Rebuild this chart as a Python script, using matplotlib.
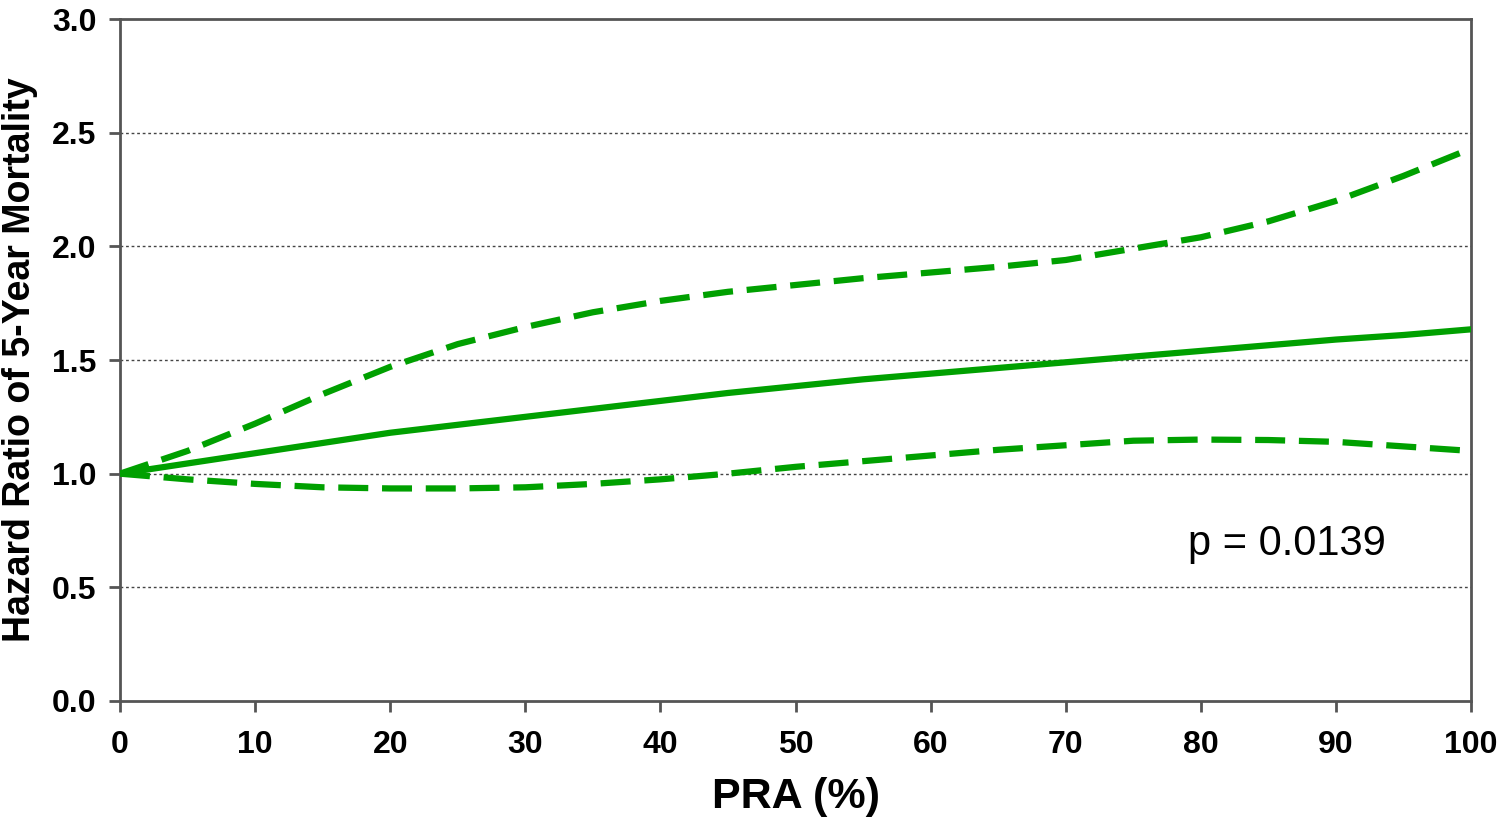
import numpy as np
import matplotlib.pyplot as plt

plt.rcParams['font.family'] = ['Liberation Sans', 'DejaVu Sans']

# PRA (%) and hazard ratio curves
pra = [0, 5, 10, 15, 20, 25, 30, 35, 40, 45, 50,
       55, 60, 65, 70, 75, 80, 85, 90, 95, 100]
hr = [1.0, 1.045, 1.09, 1.135, 1.18, 1.215, 1.25, 1.285, 1.32, 1.355, 1.385,
      1.415, 1.44, 1.465, 1.49, 1.515, 1.54, 1.565, 1.59, 1.61, 1.635]
hr_upper = [1.0, 1.1, 1.22, 1.35, 1.47, 1.57, 1.645, 1.71, 1.76, 1.80, 1.83,
            1.86, 1.885, 1.91, 1.94, 1.99, 2.04, 2.11, 2.2, 2.31, 2.43]
hr_lower = [1.0, 0.975, 0.955, 0.94, 0.935, 0.935, 0.94, 0.955, 0.975, 1.0, 1.03,
            1.055, 1.08, 1.105, 1.125, 1.145, 1.15, 1.148, 1.14, 1.12, 1.1]

xticks = np.arange(0, 101, 10)
yticks = np.arange(0, 3.01, 0.5)

green = '#00a000'

fig = plt.figure(figsize=(15, 8.17), dpi=100)
ax = fig.add_axes([0.08, 0.142, 0.9007, 0.8347])

for y in yticks[1:-1]:
    ax.axhline(y, color='#444444', lw=1.0, ls=(0, (2, 2)), zorder=1)

ax.plot(pra, hr, color=green, lw=4.5, solid_capstyle='round', zorder=3)
ax.plot(pra, hr_upper, color=green, lw=4.5, ls=(0, (4.8, 2.2)), zorder=3)
ax.plot(pra, hr_lower, color=green, lw=4.5, ls=(0, (4.8, 2.2)), zorder=3)

ax.set_xlim(0, 100)
ax.set_ylim(0, 3.0)
ax.set_xticks(xticks)
ax.set_yticks(yticks)
ax.set_yticklabels([f'{v:.1f}' for v in yticks])

for s in ax.spines.values():
    s.set_color('#555555')
    s.set_linewidth(2)

ax.tick_params(axis='both', direction='out', length=8, width=2,
               color='#555555', labelsize=23, pad=9)
ax.tick_params(axis='x', pad=13)
for lab in ax.get_xticklabels() + ax.get_yticklabels():
    lab.set_fontweight('bold')

ax.set_xlabel('PRA (%)', fontsize=31, fontweight='bold', labelpad=12)
ax.set_ylabel('Hazard Ratio of 5-Year Mortality', fontsize=27,
              fontweight='bold', labelpad=10)

ax.text(86.4, 0.69, 'p = 0.0139', fontsize=30, ha='center', va='center')

fig.savefig('out.png', dpi=100)
